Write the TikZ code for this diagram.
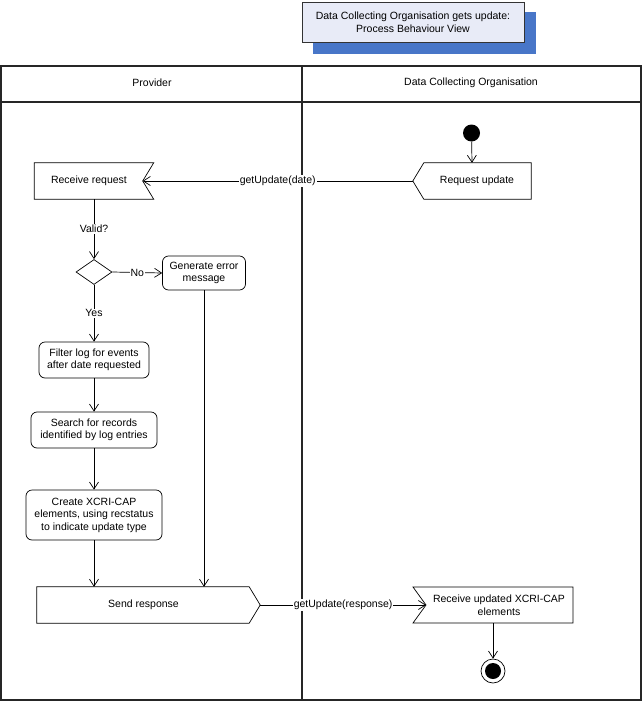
\documentclass[tikz,border=0pt]{standalone}
\usepackage{fontspec}
\setmainfont{Liberation Sans}
\usetikzlibrary{arrows.meta,shapes.geometric}
\definecolor{titlefill}{RGB}{232,235,247}
\definecolor{shadowblue}{RGB}{72,118,200}
\tikzset{
  lane/.style={line width=1.4pt, draw=black!85},
  box/.style={draw, line width=0.7pt, rounded corners=6pt, align=center, inner sep=2pt},
  txt/.style={align=center, inner sep=0pt},
  arr/.style={line width=0.7pt, -{Straight Barb[length=7pt,width=9pt,line width=0.7pt]}},
  lbl/.style={fill=white, inner sep=1pt, font=\fontsize{10.5}{12.5}\selectfont},
  sig/.style={line width=0.7pt, draw},
}
\begin{document}
\begin{tikzpicture}[x=1pt,y=-1pt, font=\fontsize{10.5}{12.5}\selectfont]
\useasboundingbox (0,0) rectangle (643,701);
% title
\fill[shadowblue] (313,12) rectangle (536,54);
\node[draw=black!80, line width=0.8pt, fill=titlefill, minimum width=222pt, minimum height=40pt, align=center, inner sep=0pt] (title) at (413,22) {Data Collecting Organisation gets update:\\Process Behaviour View};
% lanes
\draw[lane] (1,66) rectangle (641,700);
\draw[lane] (302,66) -- (302,700);
\draw[line width=1.2pt, draw=black!85] (1,102) -- (641,102);
\node[txt] (prov) at (152,83) {Provider};
\node[txt] (dco) at (471,83) {Data Collecting Organisation};
% initial
\node[circle, fill=black, minimum size=17pt, inner sep=0pt] (init) at (471.5,133) {};
% request update (send signal, pointing left)
\node[txt, minimum width=118pt, minimum height=36pt] (ru) at (472,181) {\hspace*{10pt}Request update};
\draw[sig] (ru.west) -- ([xshift=11pt]ru.north west) -- (ru.north east) -- (ru.south east) -- ([xshift=11pt]ru.south west) -- cycle;
% receive request
\node[txt, minimum width=119pt, minimum height=36pt] (rr) at (94,181) {Receive request\hspace*{10pt}};
\draw[sig] (rr.north west) -- (rr.north east) -- ([xshift=-11pt]rr.east) -- (rr.south east) -- (rr.south west) -- cycle;
% decision
\node[diamond, draw, line width=0.7pt, minimum width=36pt, minimum height=25pt, inner sep=0pt, shape aspect=1.44] (dec) at (94,272) {};
% generate error
\node[box, minimum width=83pt, minimum height=34pt] (ge) at (204,273) {Generate error\\message};
% filter
\node[box, minimum width=110pt, minimum height=36pt] (fl) at (94,360) {Filter log for events\\after date requested};
% search
\node[box, minimum width=126pt, minimum height=36pt] (sr) at (94,430) {Search for records\\identified by log entries};
% create
\node[box, minimum width=136pt, minimum height=50pt] (cx) at (94,515) {Create XCRI-CAP\\elements, using recstatus\\to indicate update type};
% send response
\node[txt, minimum width=223pt, minimum height=36pt] (sp) at (148.5,605) {Send response\hspace*{10pt}};
\draw[sig] (sp.north west) -- ([xshift=-11pt]sp.north east) -- (sp.east) -- ([xshift=-11pt]sp.south east) -- (sp.south west) -- cycle;
% receive updated (accept signal)
\node[txt] (rx) at (499,605) {Receive updated XCRI-CAP\\elements};
\draw[sig] (413,587) -- (573,587) -- (573,623) -- (413,623) -- (426,605) -- cycle;
\coordinate (rxin) at (426,605);
\coordinate (rxout) at (493,623);
% final
\node[circle, draw, line width=0.7pt, minimum size=24pt, inner sep=0pt] (fin) at (493,671) {};
\fill (fin.center) circle (8pt);
% connectors
\draw[arr] (init) -- (ru.north);
\draw[arr] (ru.west) -- node[lbl] {getUpdate(date)} ([xshift=-11pt]rr.east);
\draw[arr] (rr.south) -- node[lbl] {Valid?} (dec.north);
\draw[arr] (dec.east) -- node[lbl] {No} (ge.west);
\draw[arr] (dec.south) -- node[lbl] {Yes} (fl.north);
\draw[arr] (fl.south) -- (sr.north);
\draw[arr] (sr.south) -- (cx.north);
\draw[arr] (cx.south) -- (cx.south |- sp.north);
\draw[arr] (ge.south) -- (ge.south |- sp.north);
\draw[arr] (sp.east) -- node[lbl] {getUpdate(response)} (rxin);
\draw[arr] (rxout) -- (fin.north);
\end{tikzpicture}
\end{document}
